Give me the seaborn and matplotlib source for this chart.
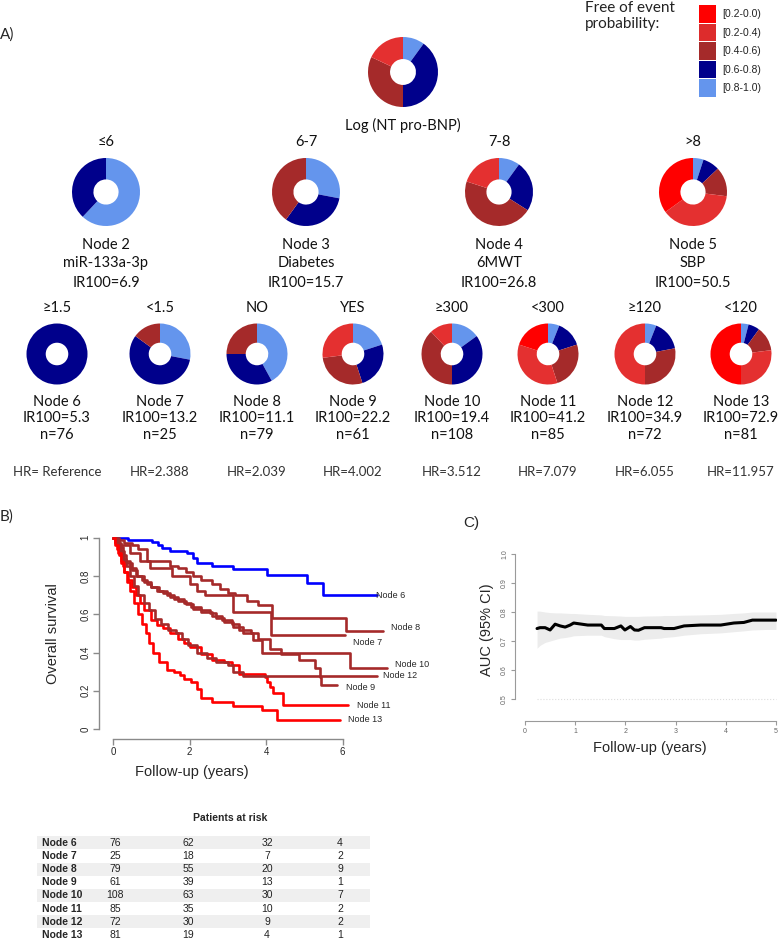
import numpy as np
import pandas as pd
import matplotlib
matplotlib.use("Agg")
import matplotlib.pyplot as plt
import seaborn as sns

sns.set_style("white")
plt.rcParams['font.family'] = ['Lato', 'DejaVu Sans']

W, H = 778, 938
fig = plt.figure(figsize=(W / 100, H / 100), dpi=100)

# ------------------------------------------------------------------ data
legend_title = "Free of event\nprobability:"
prob_labels = ["[0.2-0.0)", "[0.2-0.4)", "[0.4-0.6)", "[0.6-0.8)", "[0.8-1.0)"]
prob_colors = ["#FF0000", "#DD2C2C", "#A52A2A", "#00008B", "#6495ED"]
# donut wedges clockwise from 12 o'clock: [0.8-1.0), [0.6-0.8), [0.4-0.6), [0.2-0.4), [0.2-0.0)
wedge_colors = ["#6495ED", "#00008B", "#A52A2A", "#E43030", "#FF0000"]

root_label = "Log (NT pro-BNP)"
root_pie = [0.10, 0.40, 0.32, 0.18, 0.00]

t2_split = ["≤6", "6-7", "7-8", ">8"]
t2_node = ["Node 2", "Node 3", "Node 4", "Node 5"]
t2_var = ["miR-133a-3p", "Diabetes", "6MWT", "SBP"]
t2_ir = ["6.9", "15.7", "26.8", "50.5"]
t2_pies = [[0.62, 0.38, 0, 0, 0],
           [0.28, 0.32, 0.40, 0, 0],
           [0.10, 0.24, 0.46, 0.20, 0],
           [0.05, 0.08, 0.14, 0.38, 0.35]]

t3_split = ["≥1.5", "<1.5", "NO", "YES", "≥300", "<300", "≥120", "<120"]
t3_node = ["Node 6", "Node 7", "Node 8", "Node 9", "Node 10", "Node 11", "Node 12", "Node 13"]
t3_ir = ["5.3", "13.2", "11.1", "22.2", "19.4", "41.2", "34.9", "72.9"]
t3_n = [76, 25, 79, 61, 108, 85, 72, 81]
t3_hr = ["HR= Reference", "HR=2.388", "HR=2.039", "HR=4.002", "HR=3.512", "HR=7.079", "HR=6.055", "HR=11.957"]
t3_pies = [[0, 1.0, 0, 0, 0],
           [0.28, 0.57, 0.15, 0, 0],
           [0.42, 0.33, 0.25, 0, 0],
           [0.20, 0.25, 0.28, 0.27, 0],
           [0.15, 0.35, 0.38, 0.12, 0],
           [0.06, 0.14, 0.25, 0.35, 0.20],
           [0.06, 0.16, 0.28, 0.50, 0],
           [0.04, 0.06, 0.13, 0.27, 0.50]]

# Kaplan-Meier step curves (time in years, survival)
km_t6 = [0, 0.39, 1.02, 1.18, 1.28, 1.49, 1.93, 2.09, 2.2, 2.59, 3.14, 4.03, 5.07, 5.49, 6.9]
km_s6 = [1, 0.988, 0.979, 0.962, 0.945, 0.931, 0.919, 0.893, 0.870, 0.852, 0.835, 0.805, 0.762, 0.70, 0.70]
km_t7 = [0, 0.15, 0.45, 0.7, 0.97, 1.53, 2.0, 2.2, 2.4, 3.14, 4.12, 6.07]
km_s7 = [1, 0.96, 0.92, 0.88, 0.84, 0.80, 0.76, 0.72, 0.70, 0.61, 0.49, 0.49]
km_t8 = [0, 0.1, 0.3, 0.5, 0.65, 0.9, 1.5, 1.7, 1.9, 2.1, 2.3, 2.6, 2.8, 3.0, 3.2, 3.5, 3.8, 4.15, 6.1, 7.06]
km_s8 = [1, 0.99, 0.975, 0.96, 0.94, 0.88, 0.85, 0.84, 0.82, 0.80, 0.78, 0.76, 0.73, 0.71, 0.70, 0.67, 0.65, 0.58, 0.51, 0.51]
km_t9 = [0, 0.1, 0.2, 0.3, 0.45, 0.6, 0.8, 1.0, 1.2, 1.4, 1.6, 1.85, 2.05, 2.3, 2.6, 2.85, 3.1, 3.3, 3.6, 3.8, 4.1, 4.4, 4.85, 5.28, 5.41, 5.45, 5.85]
km_s9 = [1, 0.97, 0.93, 0.88, 0.84, 0.80, 0.77, 0.74, 0.72, 0.70, 0.68, 0.66, 0.64, 0.61, 0.59, 0.57, 0.55, 0.52, 0.50, 0.47, 0.42, 0.39, 0.36, 0.32, 0.27, 0.23, 0.23]
km_t10 = [0, 0.05, 0.15, 0.25, 0.35, 0.5, 0.62, 0.75, 0.88, 1.0, 1.15, 1.31, 1.5, 1.7, 1.92, 2.1, 2.3, 2.53, 2.7, 2.9, 3.14, 3.4, 3.67, 3.9, 6.2, 7.16]
km_s10 = [1, 0.98, 0.95, 0.91, 0.87, 0.83, 0.80, 0.78, 0.76, 0.74, 0.72, 0.71, 0.69, 0.67, 0.655, 0.63, 0.62, 0.605, 0.58, 0.56, 0.535, 0.50, 0.465, 0.40, 0.32, 0.32]
km_t11 = [0, 0.05, 0.1, 0.15, 0.2, 0.25, 0.3, 0.4, 0.5, 0.6, 0.7, 0.8, 1.0, 1.15, 1.3, 1.5, 1.7, 1.85, 2.0, 2.3, 2.6, 2.9, 3.1, 3.3, 3.97, 4.02, 4.1, 4.18, 4.44, 6.14]
km_s11 = [1, 0.97, 0.94, 0.91, 0.88, 0.85, 0.82, 0.78, 0.74, 0.70, 0.66, 0.62, 0.57, 0.545, 0.53, 0.50, 0.47, 0.45, 0.43, 0.39, 0.36, 0.35, 0.335, 0.29, 0.27, 0.245, 0.22, 0.19, 0.125, 0.125]
km_t12 = [0, 0.08, 0.15, 0.25, 0.35, 0.45, 0.55, 0.65, 0.8, 0.95, 1.1, 1.25, 1.45, 1.65, 1.8, 1.95, 2.2, 2.45, 2.7, 3.0, 3.15, 3.4, 6.9]
km_s12 = [1, 0.97, 0.93, 0.89, 0.85, 0.80, 0.75, 0.70, 0.66, 0.62, 0.575, 0.55, 0.52, 0.50, 0.47, 0.44, 0.40, 0.37, 0.35, 0.335, 0.30, 0.275, 0.275]
km_t13 = [0, 0.05, 0.12, 0.2, 0.28, 0.36, 0.45, 0.55, 0.65, 0.75, 0.85, 0.95, 1.05, 1.2, 1.4, 1.6, 1.75, 1.85, 2.05, 2.2, 2.3, 2.6, 3.15, 3.9, 4.3, 5.93]
km_s13 = [1, 0.96, 0.92, 0.87, 0.82, 0.77, 0.72, 0.66, 0.60, 0.55, 0.50, 0.45, 0.40, 0.35, 0.31, 0.30, 0.28, 0.26, 0.245, 0.21, 0.16, 0.14, 0.12, 0.10, 0.047, 0.047]
km_colors = {"Node 6": "#0000FF", "Node 7": "#A52A2A", "Node 8": "#A52A2A", "Node 9": "#A52A2A",
             "Node 10": "#A52A2A", "Node 11": "#FF0000", "Node 12": "#A52A2A", "Node 13": "#FF0000"}

# AUC over follow-up
auc_time = [0.24, 0.3, 0.4, 0.5, 0.6, 0.7, 0.8, 0.9, 0.97, 1.25, 1.52, 1.58, 1.78, 1.91, 1.99, 2.1, 2.18,
            2.26, 2.38, 2.71, 2.77, 2.97, 3.17, 3.5, 3.9, 4.16, 4.36, 4.53, 4.83, 5.0]
auc_value = [0.743, 0.746, 0.746, 0.738, 0.758, 0.752, 0.748, 0.755, 0.762, 0.755, 0.755, 0.743, 0.743,
             0.752, 0.738, 0.75, 0.738, 0.737, 0.746, 0.746, 0.743, 0.743, 0.752, 0.755, 0.755, 0.762,
             0.764, 0.772, 0.772, 0.772]
auc_lower = [0.675, 0.685, 0.695, 0.70, 0.705, 0.71, 0.712, 0.715, 0.718, 0.72, 0.72, 0.715, 0.708, 0.705,
             0.705, 0.705, 0.703, 0.703, 0.706, 0.71, 0.712, 0.715, 0.72, 0.725, 0.728, 0.732, 0.735,
             0.738, 0.74, 0.74]
auc_upper = [0.803, 0.803, 0.80, 0.798, 0.797, 0.797, 0.796, 0.795, 0.795, 0.792, 0.79, 0.788, 0.787,
             0.786, 0.785, 0.785, 0.785, 0.785, 0.786, 0.787, 0.788, 0.788, 0.789, 0.79, 0.792, 0.795,
             0.797, 0.80, 0.80, 0.80]

# patients at risk table
risk_title = "Patients at risk"
risk_nodes = ["Node 6", "Node 7", "Node 8", "Node 9", "Node 10", "Node 11", "Node 12", "Node 13"]
risk_t0 = [76, 25, 79, 61, 108, 85, 72, 81]
risk_t2 = [62, 18, 55, 39, 63, 35, 30, 19]
risk_t4 = [32, 7, 20, 13, 30, 10, 9, 4]
risk_t6 = [4, 2, 9, 1, 7, 2, 2, 1]

# ------------------------------------------------------------------ overlay (pixel coords)
ov = fig.add_axes([0, 0, 1, 1])
ov.set_xlim(0, W)
ov.set_ylim(H, 0)
ov.axis("off")

CAL = ['Lato', 'DejaVu Sans']
ARI = ['Liberation Sans', 'DejaVu Sans']


def T(x, y, s, size=10, ha="center", va="center", family=CAL, **kw):
    ov.text(x, y, s, fontsize=size, ha=ha, va=va, family=family, **kw)


def donut(cx, cy, r, fracs):
    ax = fig.add_axes([(cx - r) / W, 1 - (cy + r) / H, 2 * r / W, 2 * r / H])
    vals = [f for f in fracs if f > 0]
    cols = [c for f, c in zip(fracs, wedge_colors) if f > 0]
    ax.pie(vals, colors=cols, startangle=90, counterclock=False, radius=1,
           wedgeprops=dict(width=0.63, edgecolor="none", linewidth=0))
    ax.set_xlim(-1, 1)
    ax.set_ylim(-1, 1)
    ax.axis("off")


# ---- panel A
T(0, 35, "A)", size=11, ha="left")
T(585, 16, legend_title, size=11, ha="left", color="#222222", linespacing=1.2)
for i, (lab, col) in enumerate(zip(prob_labels, prob_colors)):
    y0 = 5 + i * 18.6
    ov.add_patch(plt.Rectangle((699, y0), 17, 17.6, color=col, lw=0))
    T(722, y0 + 9, lab, size=7.5, ha="left", family=ARI, color="#222222")

donut(403, 72, 35, root_pie)
T(403, 125, root_label, size=10.5, color="#111111")

t2_x = [106, 306, 499, 693]
for i, x in enumerate(t2_x):
    T(x, 142, t2_split[i], size=10.5, color="#111111")
    donut(x, 192, 34, t2_pies[i])
    T(x, 245, t2_node[i], size=10.5, color="#111111")
    T(x, 263, t2_var[i], size=10.5, color="#111111")
    T(x, 283, "IR100=" + t2_ir[i], size=10.5, color="#111111")

t3_x = [57, 160, 257, 353, 452, 548, 645, 741]
for i, x in enumerate(t3_x):
    T(x, 308, t3_split[i], size=10.5, color="#111111")
    donut(x, 354, 30.5, t3_pies[i])
    T(x, 402, t3_node[i], size=10.5, color="#111111")
    T(x, 418, "IR100=" + t3_ir[i], size=10.5, color="#111111")
    T(x, 435, "n=%d" % t3_n[i], size=10.5, color="#111111")
    T(x, 472, t3_hr[i], size=9.5, color="#333333")

# ---- panel B: Kaplan-Meier
T(0, 517, "B)", size=11, ha="left")
km_rows = []
for node, tt, ss in [("Node 6", km_t6, km_s6), ("Node 7", km_t7, km_s7), ("Node 8", km_t8, km_s8),
                     ("Node 9", km_t9, km_s9), ("Node 10", km_t10, km_s10), ("Node 11", km_t11, km_s11),
                     ("Node 12", km_t12, km_s12), ("Node 13", km_t13, km_s13)]:
    for t, s in zip(tt, ss):
        km_rows.append((node, t, s))
km_df = pd.DataFrame(km_rows, columns=["node", "time", "surv"])

X0, XS = 113, 38.25
Y0, YS = 729, 191.25
axB = fig.add_axes([99 / W, 1 - 739 / H, (400 - 99) / W, (739 - 530) / H])
axB.patch.set_alpha(0)
sns.lineplot(data=km_df, x="time", y="surv", hue="node", palette=km_colors, estimator=None,
             sort=False, drawstyle="steps-post", linewidth=1.9, legend=False, ax=axB)
axB.set_xlim((99 - X0) / XS, (400 - X0) / XS)
axB.set_ylim((Y0 - 739) / YS, (Y0 - 530) / YS)
for s in ["top", "right"]:
    axB.spines[s].set_visible(False)
axB.spines["left"].set_bounds(0, 1)
axB.spines["bottom"].set_bounds(0, 6)
for s in ["left", "bottom"]:
    axB.spines[s].set_color("#8a8a8a")
    axB.spines[s].set_linewidth(1.0)
axB.set_yticks([0, 0.2, 0.4, 0.6, 0.8, 1.0])
axB.set_yticklabels(["0", "0.2", "0.4", "0.6", "0.8", "1"], rotation=90, va="center", family=ARI, fontsize=7)
axB.set_xticks([0, 2, 4, 6])
axB.set_xticklabels(["0", "2", "4", "6"], family=ARI, fontsize=7)
axB.tick_params(left=True, bottom=True, length=4, width=1, color="#8a8a8a", pad=2)
axB.set_xlabel("")
axB.set_ylabel("")
for lab, px, py in [("Node 6", 376, 595), ("Node 8", 391, 627), ("Node 7", 353, 642), ("Node 10", 395, 664),
                    ("Node 12", 383, 675), ("Node 9", 346, 687), ("Node 11", 357, 705), ("Node 13", 348, 719)]:
    axB.text((px - X0) / XS, (Y0 - py) / YS, lab, fontsize=6.5, family=ARI, ha="left", va="center",
             clip_on=False)
T(53, 634, "Overall survival", size=10.5, rotation=90, family=ARI)
T(192, 772, "Follow-up (years)", size=10.5, family=ARI)

# ---- panel C: AUC
T(463, 523, "C)", size=11, ha="left", family=ARI)
CX0, CXS = 525, 50.2
CY0, CYS = 699, 290.0
axC = fig.add_axes([515 / W, 1 - 721 / H, (777 - 515) / W, (721 - 550) / H])
axC.patch.set_alpha(0)
axC.fill_between(auc_time, auc_lower, auc_upper, color="#ECECEC", lw=0)
axC.plot([auc_time[0], 5.0], [0.5, 0.5], color="#dddddd", lw=0.8, ls=":")
auc_df = pd.DataFrame({"time": auc_time, "auc": auc_value})
sns.lineplot(data=auc_df, x="time", y="auc", color="black", linewidth=2.2, ax=axC)
axC.set_xlim((515 - CX0) / CXS, (777 - CX0) / CXS)
axC.set_ylim(0.5 - (721 - CY0) / CYS, 0.5 + (CY0 - 550) / CYS)
for s in ["top", "right"]:
    axC.spines[s].set_visible(False)
axC.spines["left"].set_bounds(0.5, 1.0)
axC.spines["bottom"].set_bounds(0, 5)
for s in ["left", "bottom"]:
    axC.spines[s].set_color("#9a9a9a")
    axC.spines[s].set_linewidth(0.8)
axC.set_yticks([0.5, 0.6, 0.7, 0.8, 0.9, 1.0])
axC.set_yticklabels(["0.5", "0.6", "0.7", "0.8", "0.9", "1.0"], rotation=90, va="center", family=ARI,
                    fontsize=5, color="#666666")
axC.set_xticks([0, 1, 2, 3, 4, 5])
axC.set_xticklabels(["0", "1", "2", "3", "4", "5"], family=ARI, fontsize=5, color="#666666")
axC.tick_params(left=True, bottom=True, length=3, width=0.8, color="#9a9a9a", pad=2)
axC.set_xlabel("")
axC.set_ylabel("")
T(487, 630, "AUC (95% CI)", size=10.5, rotation=90, family=ARI)
T(650, 748, "Follow-up (years)", size=10.5, family=ARI)

# ---- at-risk table
T(230, 818, risk_title, size=7.5, weight="bold", family=ARI)
col_x = [115, 188, 267, 340]
for i, node in enumerate(risk_nodes):
    y = 843 + i * 13.1
    if i % 2 == 0:
        ov.add_patch(plt.Rectangle((37, y - 6.5), 333, 13, color="#EFEFEF", lw=0, zorder=0))
    T(42, y, node, size=7.5, ha="left", weight="bold", family=ARI)
    for x, v in zip(col_x, [risk_t0[i], risk_t2[i], risk_t4[i], risk_t6[i]]):
        T(x, y, str(v), size=7.5, family=ARI, color="#222222")

fig.savefig("out.png", dpi=100)
